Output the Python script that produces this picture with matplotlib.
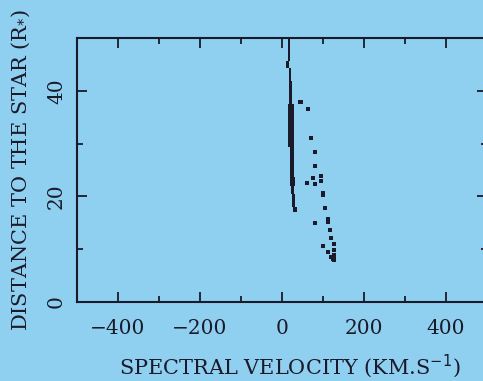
import matplotlib
matplotlib.use('Agg')
import matplotlib.pyplot as plt
from matplotlib.ticker import MultipleLocator

# main absorption trace, as blocks: velocity range (km/s) over distance range (R*)
trace_v_lo = [14, 10, 16, 17, 14, 19, 19, 21, 24, 27]
trace_v_hi = [20, 18, 22, 24, 29, 29, 32, 29, 31, 36]
trace_d_lo = [45.6, 44.4, 41.9, 37.5, 29.3, 23.6, 22.0, 20.5, 18.0, 17.0]
trace_d_hi = [50.0, 45.6, 44.4, 41.9, 37.5, 29.3, 23.6, 22.0, 20.5, 18.0]

# scattered points
dots_v = [44, 47, 64, 70, 80, 80, 75, 60, 80, 95, 95, 100, 100, 105, 81, 111, 111,
          116, 120, 126, 100, 111, 128, 127, 127, 127, 120, 124]
dots_d = [37.9, 37.9, 36.5, 31.0, 28.5, 25.7, 23.5, 22.6, 22.4, 23.8, 22.9, 20.7, 20.2,
          17.8, 14.9, 15.7, 15.2, 13.7, 12.2, 10.9, 10.6, 9.5, 9.8, 8.9, 8.4, 7.9, 8.6, 8.2]

bg = '#8fcff0'
ink = '#1a1a2a'
plt.rcParams['font.family'] = ['DejaVu Serif']

fig = plt.figure(figsize=(4.83, 3.81), dpi=100, facecolor=bg)
ax = fig.add_axes([77 / 483, 79 / 381, 410 / 483, 264 / 381], facecolor=bg)

heights = [h - l for l, h in zip(trace_d_lo, trace_d_hi)]
widths = [h - l for l, h in zip(trace_v_lo, trace_v_hi)]
ax.barh(trace_d_lo, widths, height=heights, left=trace_v_lo, align='edge', color=ink, lw=0)
ax.plot(dots_v, dots_d, 's', color=ink, ms=2.3, mew=0)

ax.set_xlim(-500, 500)
ax.set_ylim(0, 50)
ax.xaxis.set_major_locator(MultipleLocator(200))
ax.xaxis.set_minor_locator(MultipleLocator(100))
ax.yaxis.set_major_locator(MultipleLocator(20))
ax.yaxis.set_minor_locator(MultipleLocator(10))
ax.tick_params(which='both', direction='in', top=True, right=True, width=1.3, color=ink)
ax.tick_params(which='major', length=7, labelsize=14.5, labelcolor=ink)
ax.tick_params(axis='x', which='major', pad=12)
ax.tick_params(axis='y', which='major', pad=8)
ax.tick_params(which='minor', length=4)
for lab in ax.get_yticklabels():
    lab.set_rotation(90)
    lab.set_va('center')
for s in ax.spines.values():
    s.set_linewidth(1.5)
    s.set_color(ink)

ax.set_xlabel(r'SPECTRAL VELOCITY (KM.S$^{-1}$)', fontsize=15, color=ink)
ax.set_ylabel(r'DISTANCE TO THE STAR (R$_{*}$)', fontsize=15, color=ink)
ax.xaxis.set_label_coords(0.52, -0.19)
ax.yaxis.set_label_coords(-0.11, 0.5)

fig.savefig('out.png', dpi=100, facecolor=bg)
